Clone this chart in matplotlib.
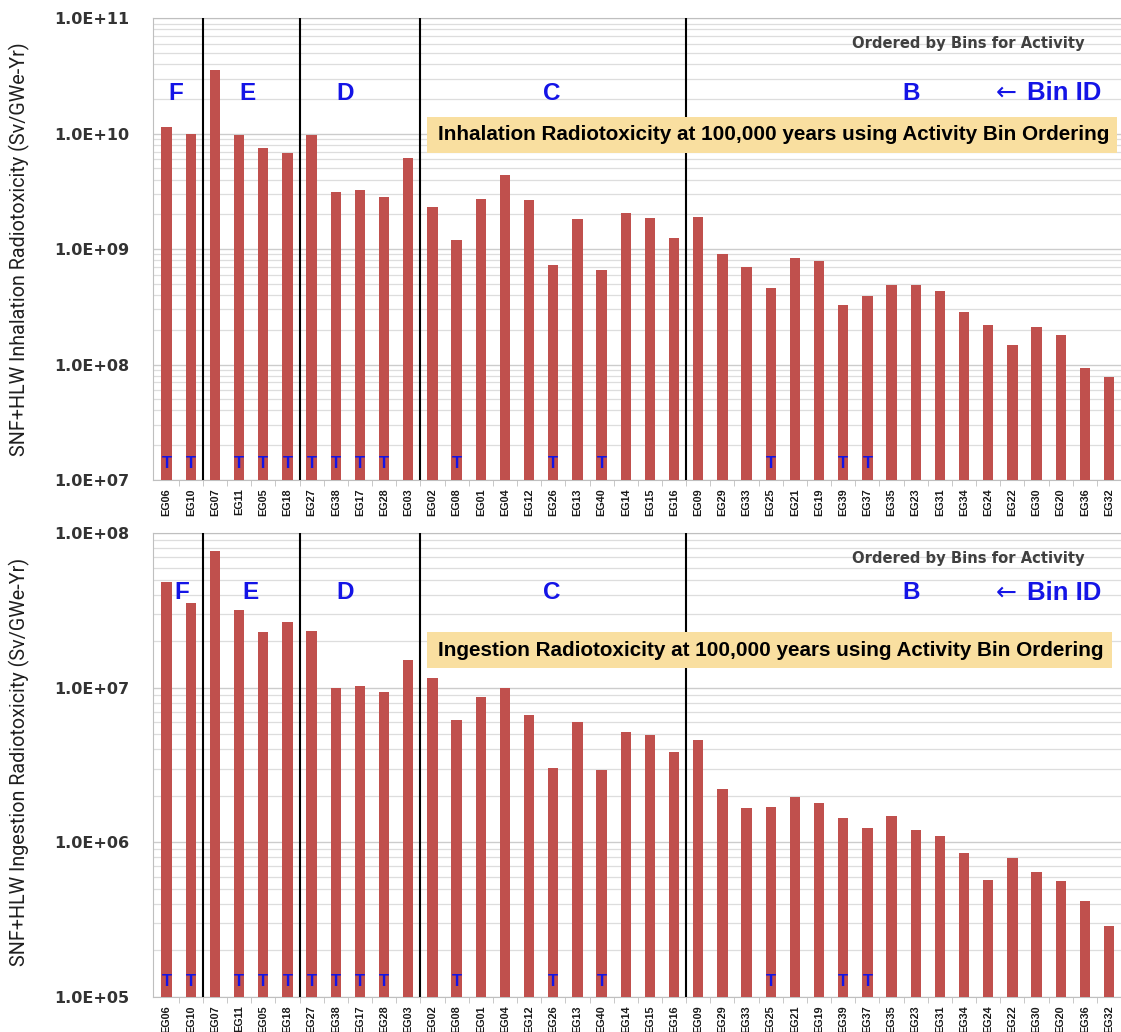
"""Inhalation and ingestion radiotoxicity at 100,000 years, ordered by activity bin."""
import numpy as np
import matplotlib
matplotlib.use("Agg")
import matplotlib.pyplot as plt
from matplotlib.ticker import LogLocator, FuncFormatter, NullFormatter
from matplotlib.transforms import blended_transform_factory
from matplotlib.patches import Rectangle

groups = ["EG06", "EG10", "EG07", "EG11", "EG05", "EG18", "EG27", "EG38", "EG17", "EG28",
          "EG03", "EG02", "EG08", "EG01", "EG04", "EG12", "EG26", "EG13", "EG40", "EG14",
          "EG15", "EG16", "EG09", "EG29", "EG33", "EG25", "EG21", "EG19", "EG39", "EG37",
          "EG35", "EG23", "EG31", "EG34", "EG24", "EG22", "EG30", "EG20", "EG36", "EG32"]

# Sv/GWe-Yr
inhalation = [1.14e10, 1.0e10, 3.55e10, 9.7e9, 7.55e9, 6.8e9, 9.7e9, 3.15e9, 3.26e9, 2.85e9,
              6.14e9, 2.34e9, 1.21e9, 2.72e9, 4.37e9, 2.67e9, 7.3e8, 1.81e9, 6.65e8, 2.07e9,
              1.86e9, 1.26e9, 1.91e9, 9.06e8, 6.97e8, 4.6e8, 8.35e8, 7.9e8, 3.3e8, 3.93e8,
              4.9e8, 4.9e8, 4.34e8, 2.86e8, 2.18e8, 1.49e8, 2.12e8, 1.81e8, 9.3e7, 7.76e7]
ingestion = [4.82e7, 3.54e7, 7.68e7, 3.18e7, 2.29e7, 2.67e7, 2.32e7, 9.93e6, 1.03e7, 9.4e6,
             1.52e7, 1.15e7, 6.2e6, 8.67e6, 9.97e6, 6.67e6, 3.04e6, 6.0e6, 2.94e6, 5.17e6,
             4.95e6, 3.86e6, 4.57e6, 2.21e6, 1.67e6, 1.70e6, 1.96e6, 1.79e6, 1.43e6, 1.23e6,
             1.47e6, 1.20e6, 1.10e6, 8.53e5, 5.68e5, 7.94e5, 6.4e5, 5.62e5, 4.17e5, 2.87e5]

# groups flagged with a "T"
t_groups = ["EG06", "EG10", "EG11", "EG05", "EG18", "EG27", "EG38", "EG17", "EG28",
            "EG08", "EG26", "EG40", "EG25", "EG39", "EG37"]

bin_ids = ["F", "E", "D", "C", "B"]
bin_sizes = [2, 4, 5, 11, 18]

BAR = "#C0504D"
BLUE = "#1414E6"
ARIAL = ["Liberation Sans", "DejaVu Sans"]


def sci_label(v, pos):
    return f"{v:.1E}"


def draw_panel(ax, values, ylim, title, box_right, letter_x, letter_y, t_y):
    x = np.arange(len(groups))
    ax.bar(x, values, width=0.43, color=BAR, zorder=3)
    ax.set_yscale("log")
    ax.set_ylim(*ylim)
    ax.set_xlim(-0.55, 39.06)

    ax.yaxis.set_major_locator(LogLocator(base=10))
    ax.yaxis.set_minor_locator(LogLocator(base=10, subs=np.arange(2, 10)))
    ax.yaxis.set_major_formatter(FuncFormatter(sci_label))
    ax.yaxis.set_minor_formatter(NullFormatter())
    ax.grid(axis="y", which="major", color="#cccccc", lw=1.0, zorder=0)
    ax.grid(axis="y", which="minor", color="#dddddd", lw=0.9, zorder=0)
    ax.tick_params(axis="y", which="both", length=0, pad=17)
    for lab in ax.get_yticklabels():
        lab.set_fontweight("bold")
        lab.set_fontsize(11.5)
        lab.set_color("#333333")

    ax.set_xticks(x)
    ax.set_xticklabels(groups, rotation=90)
    for lab in ax.get_xticklabels():
        lab.set_fontweight("bold")
        lab.set_fontsize(7.8)
        lab.set_family(ARIAL)
        lab.set_color("#1a1a1a")
    ax.set_xticks(np.arange(len(groups)) + 0.5, minor=True)
    ax.tick_params(axis="x", which="major", length=0, pad=6)
    ax.tick_params(axis="x", which="minor", length=4, color="#bfbfbf")

    for side in ["left", "top", "bottom"]:
        ax.spines[side].set_color("#bfbfbf")
    ax.spines["right"].set_visible(False)

    # bin separators
    for edge in np.cumsum(bin_sizes)[:-1] - 0.5:
        ax.axvline(edge, color="black", lw=1.5, zorder=4)

    trans = blended_transform_factory(ax.transData, ax.transAxes)
    for bid, bx in zip(bin_ids, letter_x):
        ax.text(bx, letter_y, bid, transform=trans, ha="center", va="center",
                color=BLUE, fontsize=17.5, fontweight="bold", family=ARIAL, zorder=5)
    ax.text(34.76, letter_y, "\u2190", transform=trans, ha="center", va="center",
            color=BLUE, fontsize=18, family=["DejaVu Sans"], zorder=5)
    ax.text(35.62, letter_y, "Bin ID", transform=trans, ha="left", va="center",
            color=BLUE, fontsize=18.5, fontweight="bold", family=ARIAL, zorder=5)

    for g in t_groups:
        ax.text(groups.index(g), t_y, "T", transform=trans, ha="center", va="center",
                color=BLUE, fontsize=12, fontweight="bold", family=ARIAL, zorder=5)

    ax.text(0.9628, 0.946, "Ordered by Bins for Activity", transform=ax.transAxes,
            ha="right", va="center", fontsize=10.6, fontweight="bold", color="#404040",
            family=["DejaVu Sans"], zorder=5)

    box_y = 0.709
    ax.add_patch(Rectangle((0.2825, box_y), box_right - 0.2825, 0.078,
                           transform=ax.transAxes, facecolor="#F9DFA0", edgecolor="none",
                           zorder=5))
    ax.text(0.2942, box_y + 0.039, title, transform=ax.transAxes, ha="left", va="center",
            fontsize=14.9, fontweight="bold", family=ARIAL, color="black", zorder=6)


fig = plt.figure(figsize=(11.21, 10.32), dpi=100)
ax_top = fig.add_axes([0.1368, 0.5349, 0.8633, 0.4474])
ax_bot = fig.add_axes([0.1368, 0.0342, 0.8633, 0.4490])

draw_panel(ax_top, inhalation, (1e7, 1e11),
           "Inhalation Radiotoxicity at 100,000 years using Activity Bin Ordering",
           0.9959, [0.36, 3.36, 7.37, 15.94, 30.83], 0.838, 0.035)
draw_panel(ax_bot, ingestion, (1e5, 1e8),
           "Ingestion Radiotoxicity at 100,000 years using Activity Bin Ordering",
           0.9907, [0.61, 3.45, 7.37, 15.94, 30.83], 0.872, 0.032)

fig.text(0.017, 0.7587, "SNF+HLW Inhalation Radiotoxicity (Sv/GWe-Yr)", rotation=90,
         ha="center", va="center", fontsize=14.2, family=["Roboto", "DejaVu Sans"],
         color="#1f1f1f")
fig.text(0.017, 0.2616, "SNF+HLW Ingestion Radiotoxicity (Sv/GWe-Yr)", rotation=90,
         ha="center", va="center", fontsize=14.2, family=["Roboto", "DejaVu Sans"],
         color="#1f1f1f")

fig.savefig("out.png", dpi=100)
plt.close(fig)
